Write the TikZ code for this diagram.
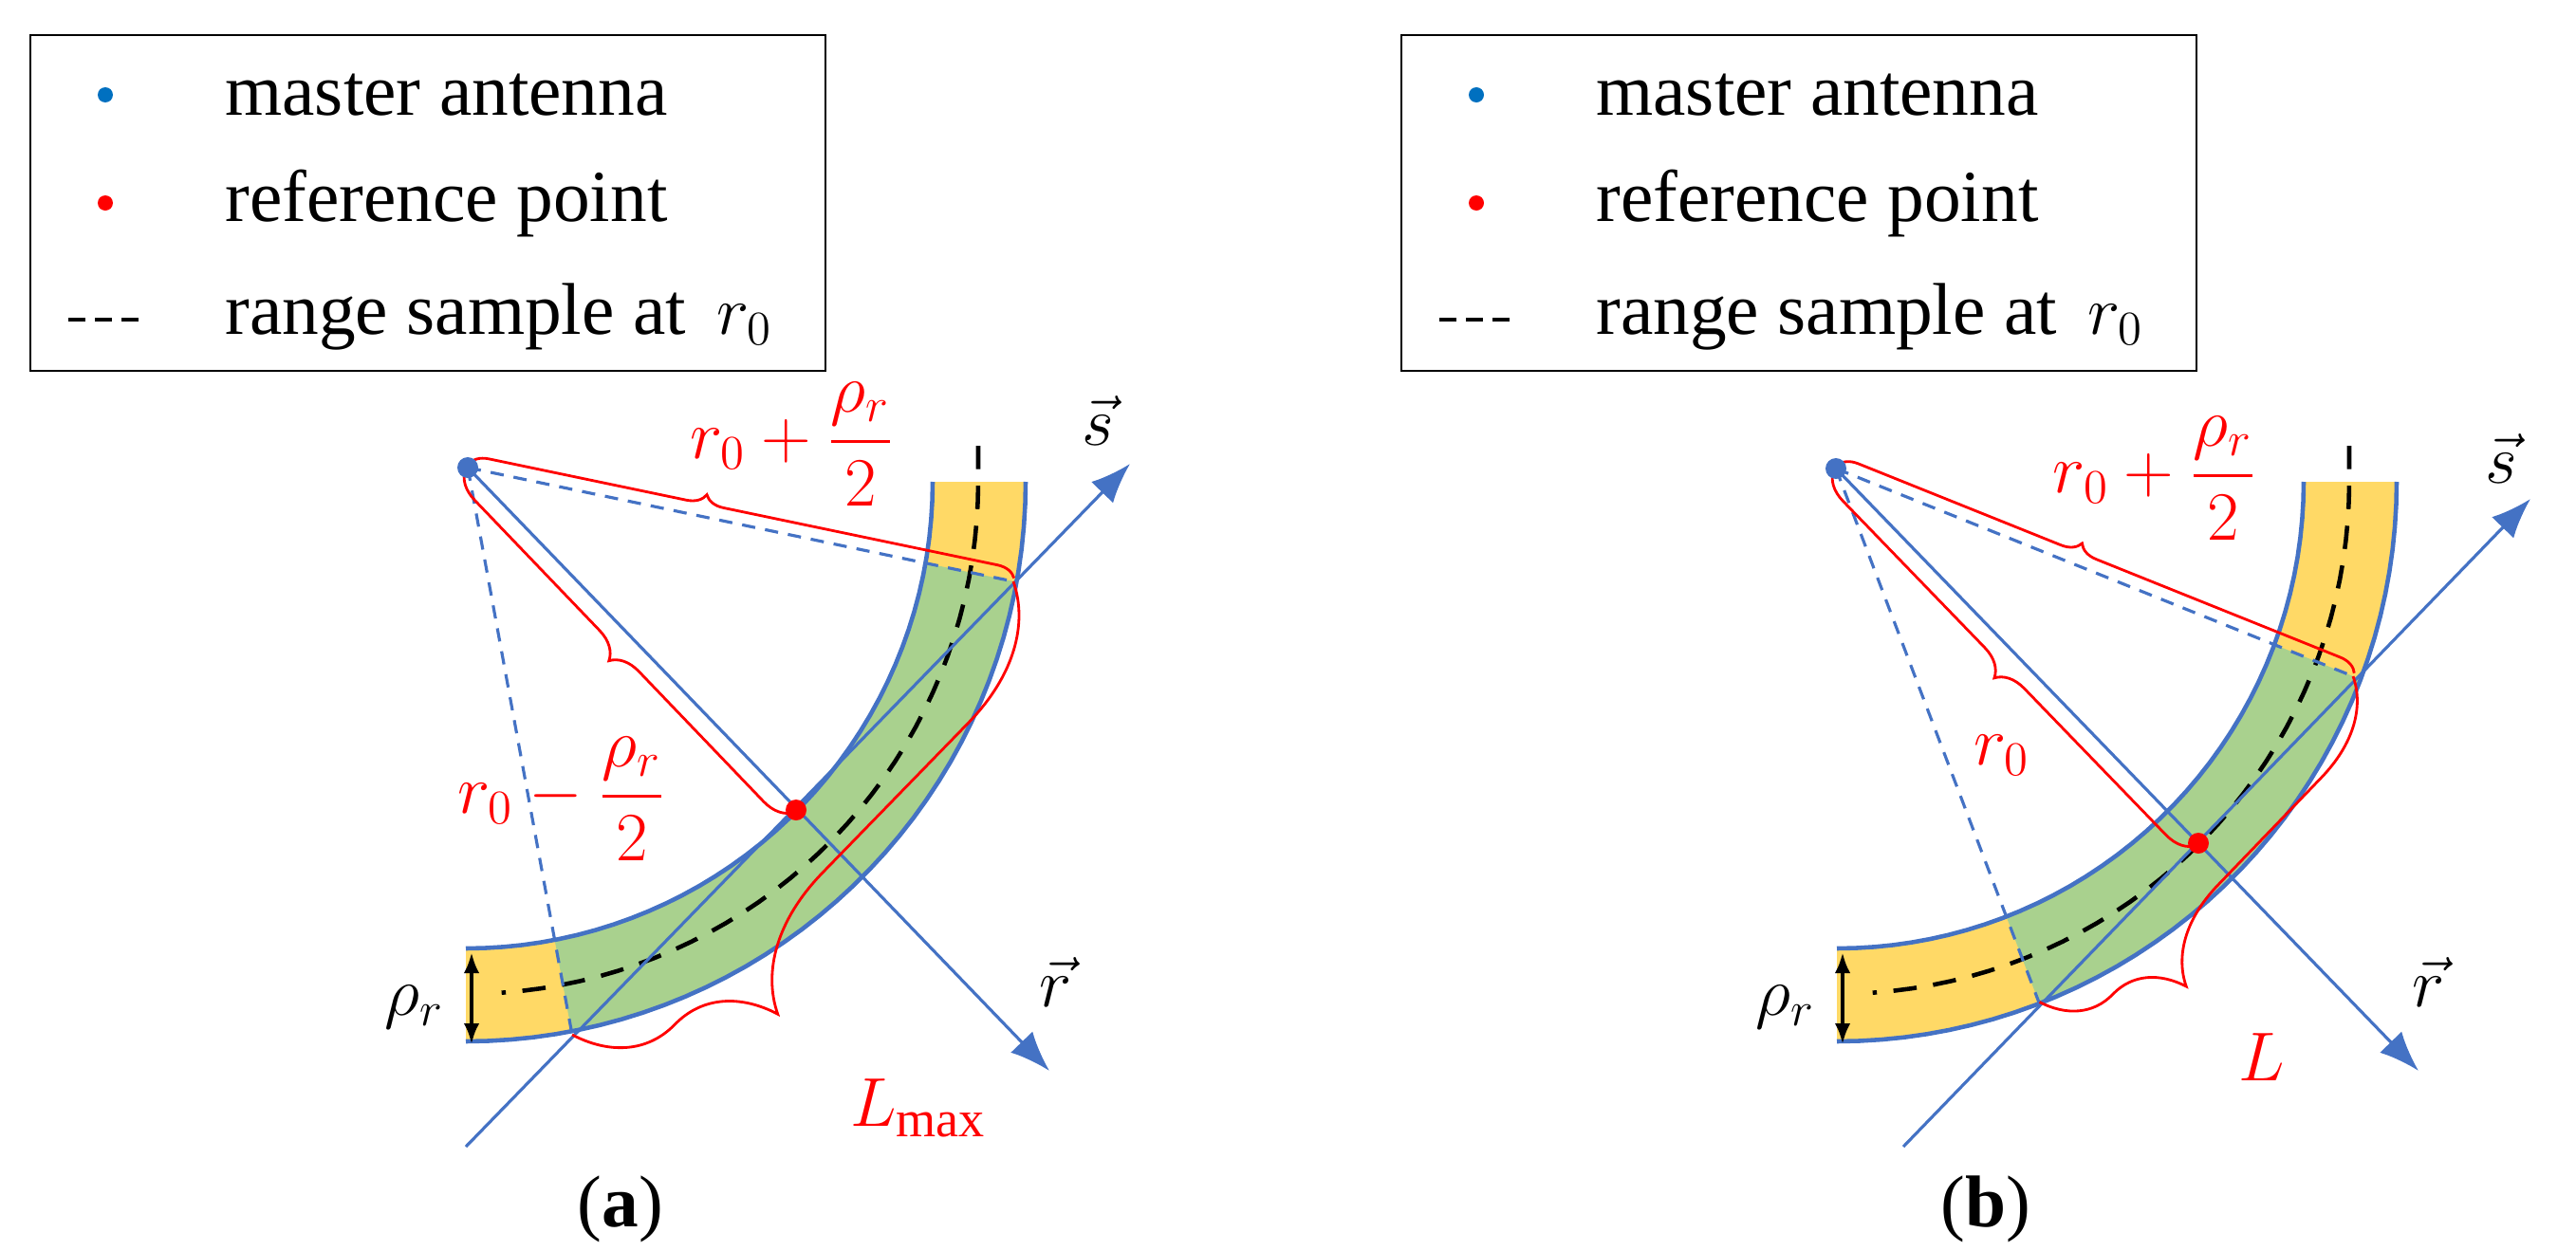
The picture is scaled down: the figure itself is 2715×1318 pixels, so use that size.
\documentclass[tikz,border=0pt]{standalone}
\usepackage{amsmath}
\usepackage{fontspec}
\setmainfont{Liberation Serif}
\usetikzlibrary{arrows.meta,decorations.pathreplacing,positioning}
\definecolor{BandYellow}{HTML}{FFD966}
\definecolor{BandGreen}{HTML}{A9D18E}
\definecolor{AxBlue}{HTML}{4472C4}
\definecolor{DotBlue}{HTML}{0070C0}
\tikzset{
    legtext/.style = {anchor=west, font=\fontsize{22}{26}\selectfont},
    lbl/.style = {font=\fontsize{22}{26}\selectfont},
    redlbl/.style = {lbl, text=red},
    axis/.style = {draw=AxBlue, line width=0.9pt, -{Latex[length=0.42cm,width=0.32cm]}},
    ray/.style = {draw=AxBlue, line width=0.9pt},
    edge/.style = {draw=AxBlue, line width=1.3pt},
    rbrace/.style = {draw=red, line width=0.8pt, decorate, decoration={brace,amplitude=#1}}
}
\begin{document}
\begin{tikzpicture}[x=0.01cm,y=-0.01cm]
\useasboundingbox (0,0) rectangle (2715,1318);
% legends and bands
\foreach \dx in {0,1445}{
    \draw[line width=0.8pt] (32+\dx,37) rectangle (870+\dx,391);
    \fill[DotBlue] (111+\dx,100) circle (8);
    \fill[red] (111+\dx,214) circle (8);
    \draw[line width=1.2pt,dash pattern=on 5pt off 3pt] (72+\dx,337) -- (152+\dx,337);
    \node[legtext] at (225+\dx,100) {master antenna};
    \node[legtext] at (225+\dx,214) {reference point};
    \node[legtext] at (225+\dx,334) {range sample at\, $r_0$};
    \fill[BandYellow] plot[domain=0:90,samples=40] ({491+\dx+590*cos(\x)},{508+590*sin(\x)})
        -- plot[domain=90:0,samples=40] ({491+\dx+492*cos(\x)},{508+492*sin(\x)}) -- cycle;
}
% green parts
\begin{scope}
    \clip (493,493) -- (1643,733) -- (713,1689) -- cycle;
    \fill[BandGreen] plot[domain=0:90,samples=40] ({491+590*cos(\x)},{508+590*sin(\x)})
        -- plot[domain=90:0,samples=40] ({491+492*cos(\x)},{508+492*sin(\x)}) -- cycle;
\end{scope}
\begin{scope}
    \clip (1935,494) -- (3025,932) -- (2363,1620) -- cycle;
    \fill[BandGreen] plot[domain=0:90,samples=40] ({1936+590*cos(\x)},{508+590*sin(\x)})
        -- plot[domain=90:0,samples=40] ({1936+492*cos(\x)},{508+492*sin(\x)}) -- cycle;
\end{scope}
\foreach \dx in {0,1445}{
    \draw[edge] plot[domain=0:90,samples=40] ({491+\dx+590*cos(\x)},{508+590*sin(\x)});
    \draw[edge] plot[domain=0:90,samples=40] ({491+\dx+492*cos(\x)},{508+492*sin(\x)});
    \draw[line width=1.3pt,dash pattern=on 7pt off 5pt] (1031+\dx,470) -- (1031+\dx,508)
        -- plot[domain=0:86,samples=40] ({491+\dx+540*cos(\x)},{508+540*sin(\x)});
    \draw[line width=1.2pt,{Latex[length=0.22cm]}-{Latex[length=0.22cm]}] (497+\dx,1004) -- (497+\dx,1101);
}
% panel (a)
\coordinate (antA) at (493,493);
\coordinate (refA) at (839,854);
\coordinate (topA) at (1068,613);
\coordinate (botA) at (603,1091);
\coordinate (s0A) at (491,1209);
\coordinate (s1A) at (1191,489);
\coordinate (r1A) at (1106,1129);
\draw[ray,dash pattern=on 4pt off 3pt] (antA) -- (topA);
\draw[ray,dash pattern=on 4pt off 3pt] (antA) -- (botA);
\draw[axis] (s0A) -- (s1A);
\draw[axis] (antA) -- (r1A);
\draw[rbrace={0.2cm},decoration={aspect=0.43,raise=1pt}] (antA) -- (topA);
\draw[rbrace={0.3cm},decoration={aspect=0.5,mirror,raise=1pt}] (antA) -- (refA);
\draw[rbrace={1.4cm},decoration={aspect=0.75}] (topA) -- (botA);
\fill[AxBlue] (antA) circle (11);
\fill[red] (refA) circle (11);
\node[redlbl] at (835,468) {$r_0+\dfrac{\rho_r}{2}$};
\node[redlbl] at (592,842) {$r_0-\dfrac{\rho_r}{2}$};
\node[redlbl] at (968,1168) {$L_{\max}$};
\node[lbl] at (437,1062) {$\rho_r$};
\node[lbl] at (1157,443) {$\vec{s}$};
\node[lbl] at (1113,1035) {$\vec{r}$};
\node[lbl] at (654,1275) {(\textbf{a})};
% panel (b)
\coordinate (antB) at (1935,494);
\coordinate (refB) at (2317,889);
\coordinate (topB) at (2480,713);
\coordinate (botB) at (2149,1057);
\coordinate (s0B) at (2006,1209);
\coordinate (s1B) at (2667,526);
\coordinate (r1B) at (2549,1129);
\draw[ray,dash pattern=on 4pt off 3pt] (antB) -- (topB);
\draw[ray,dash pattern=on 4pt off 3pt] (antB) -- (botB);
\draw[axis] (s0B) -- (s1B);
\draw[axis] (antB) -- (r1B);
\draw[rbrace={0.2cm},decoration={aspect=0.46,raise=1pt}] (antB) -- (topB);
\draw[rbrace={0.3cm},decoration={aspect=0.5,mirror,raise=1pt}] (antB) -- (refB);
\draw[rbrace={1.0cm},decoration={aspect=0.75}] (topB) -- (botB);
\fill[AxBlue] (antB) circle (11);
\fill[red] (refB) circle (11);
\node[redlbl] at (2271,504) {$r_0+\dfrac{\rho_r}{2}$};
\node[redlbl] at (2110,796) {$r_0$};
\node[redlbl] at (2384,1115) {$L$};
\node[lbl] at (1882,1062) {$\rho_r$};
\node[lbl] at (2636,483) {$\vec{s}$};
\node[lbl] at (2560,1035) {$\vec{r}$};
\node[lbl] at (2093,1275) {(\textbf{b})};
\end{tikzpicture}
\end{document}
